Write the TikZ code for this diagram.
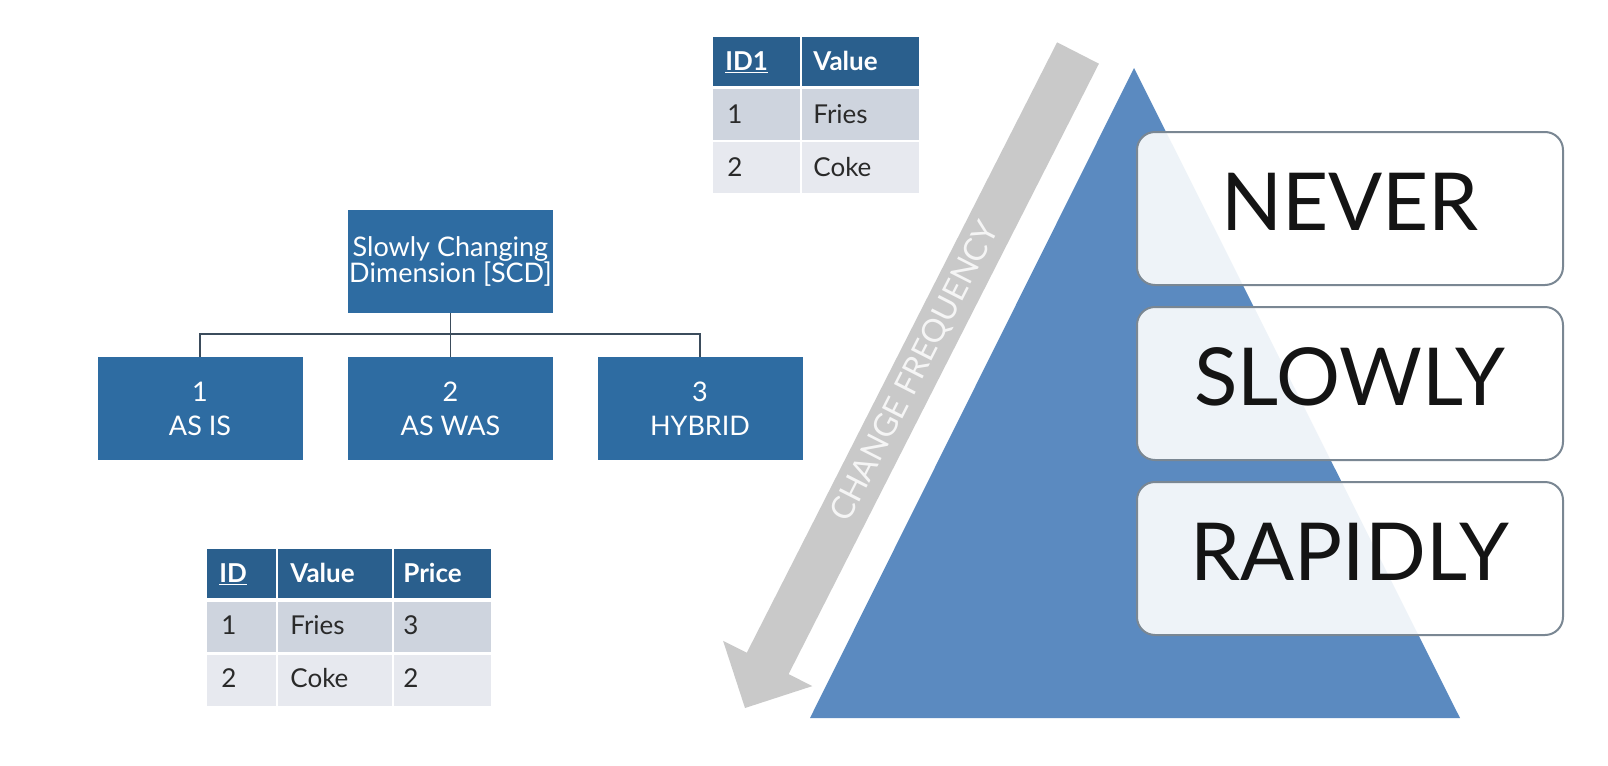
\documentclass[tikz,border=0pt]{standalone}
\usepackage{fontspec}
\setmainfont{Lato}
\definecolor{orgblue}{HTML}{2E6CA2}
\definecolor{hdrblue}{HTML}{2A5F8D}
\definecolor{rowa}{HTML}{CED4DE}
\definecolor{rowb}{HTML}{E7E9EF}
\definecolor{triblue}{HTML}{5B8AC0}
\definecolor{arrowgray}{HTML}{C9C9C9}
\definecolor{boxline}{HTML}{7A8793}
\definecolor{connline}{HTML}{3B4C5C}
\definecolor{celltext}{HTML}{2A2A2A}
\begin{document}
\begin{tikzpicture}[x=0.5pt,y=-0.5pt,
  orgbox/.style={fill=orgblue, text=white, inner sep=0pt, minimum width=102.5pt, minimum height=51.5pt, align=center},
  th/.style={anchor=base west, inner sep=0pt, text=white, font=\bfseries\fontsize{13}{13}\selectfont},
  td/.style={anchor=base west, inner sep=0pt, text=celltext, font=\fontsize{13}{13}\selectfont},
  freqbox/.style={draw=boxline, line width=1pt, rounded corners=9pt, fill=white, fill opacity=0.9, text opacity=1, minimum width=213pt, minimum height=76.5pt, inner sep=0pt, font=\fontsize{40}{40}\selectfont, text=black!92, text depth=7pt},
  conn/.style={draw=connline, line width=0.6pt}
]
\useasboundingbox[fill=white] (0,0) rectangle (1608,766);

% ---- top table ----
\fill[hdrblue] (713,37) rectangle (800,86);
\fill[hdrblue] (802,37) rectangle (919,86);
\fill[rowa] (713,89) rectangle (800,140);
\fill[rowa] (802,89) rectangle (919,140);
\fill[rowb] (713,142) rectangle (800,193);
\fill[rowb] (802,142) rectangle (919,193);
\node[th] (ta11) at (725,70) {\underline{ID1}};
\node[th] (ta12) at (813,70) {Value};
\node[td] (ta21) at (727,123) {1};
\node[td] (ta22) at (813,123) {Fries};
\node[td] (ta31) at (727,176) {2};
\node[td] (ta32) at (813,176) {Coke};

% ---- bottom table ----
\fill[hdrblue] (207,549) rectangle (276,598);
\fill[hdrblue] (278,549) rectangle (392,598);
\fill[hdrblue] (394,549) rectangle (491,598);
\fill[rowa] (207,602) rectangle (276,652);
\fill[rowa] (278,602) rectangle (392,652);
\fill[rowa] (394,602) rectangle (491,652);
\fill[rowb] (207,655) rectangle (276,706);
\fill[rowb] (278,655) rectangle (392,706);
\fill[rowb] (394,655) rectangle (491,706);
\node[th] (tb11) at (219,582) {\underline{ID}};
\node[th] (tb12) at (290,582) {Value};
\node[th] (tb13) at (403,582) {Price};
\node[td] (tb21) at (221,634) {1};
\node[td] (tb22) at (290,634) {Fries};
\node[td] (tb23) at (403,634) {3};
\node[td] (tb31) at (221,687) {2};
\node[td] (tb32) at (290,687) {Coke};
\node[td] (tb33) at (403,687) {2};

% ---- org chart ----
\node[orgbox, font=\fontsize{13.5}{13}\selectfont] (scd) at (450.5,261.5) {Slowly Changing\\Dimension [SCD]};
\node[orgbox, font=\fontsize{13.5}{17}\selectfont] (asis) at (200,408.5) {1\\AS IS};
\node[orgbox, font=\fontsize{13.5}{17}\selectfont] (aswas) at (450.5,408.5) {2\\AS WAS};
\node[orgbox, font=\fontsize{13.5}{17}\selectfont] (hybrid) at (700,408.5) {3\\HYBRID};
\coordinate (hub) at (450.5,334);
\draw[conn] (scd.south) -- (aswas.north);
\draw[conn] (asis.north) |- (hub) -| (hybrid.north);

% ---- change frequency arrow ----
\fill[arrowgray] (1057.1,42.3) -- (1098.9,63.7) -- (788.6,674.1) -- (812.3,686.1)
  -- (745,708) -- (723.1,640.8) -- (746.8,652.7) -- cycle;
\node[rotate=63, inner sep=0pt, text=white!92!gray, font=\fontsize{16}{16}\selectfont] (cf) at (916,372) {CHANGE FREQUENCY};

% ---- triangle ----
\fill[triblue] (1134,68) -- (1460,718) -- (810,718) -- cycle;

% ---- frequency boxes ----
\node[freqbox] (never) at (1350,208.5) {NEVER};
\node[freqbox] (slowly) at (1350,383.5) {SLOWLY};
\node[freqbox] (rapidly) at (1350,558.5) {RAPIDLY};
\end{tikzpicture}
\end{document}
